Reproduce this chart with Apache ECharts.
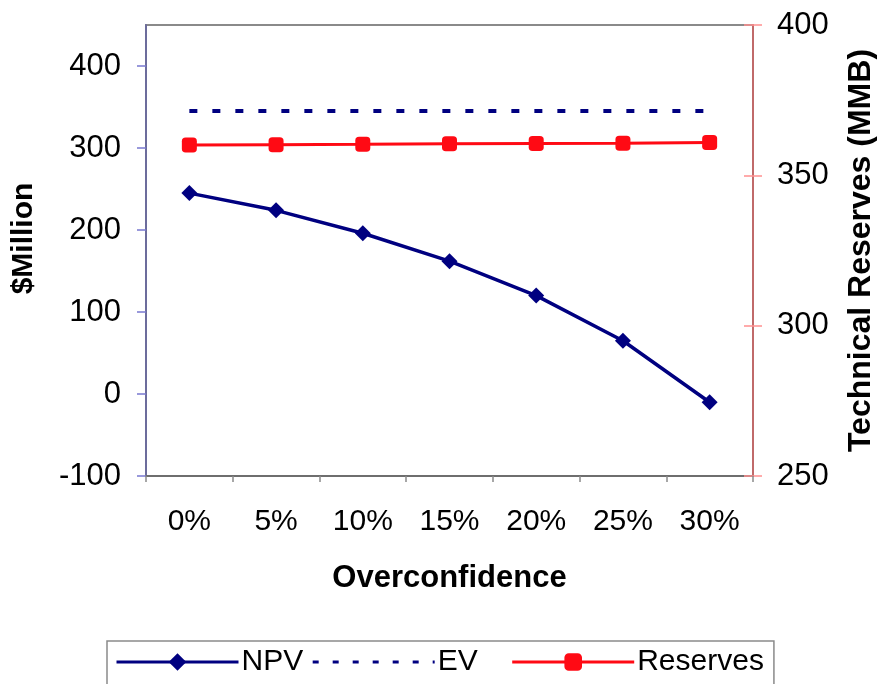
<!DOCTYPE html>
<html>
<head>
<meta charset="utf-8">
<script src="https://cdn.jsdelivr.net/npm/echarts@6/dist/echarts.min.js"></script>
<style>
html,body{margin:0;padding:0;background:#fff;overflow:hidden;}
#chart{width:877px;height:684px;}
</style>
</head>
<body>
<div id="chart"></div>
<script>
const categories = ['0%', '5%', '10%', '15%', '20%', '25%', '30%'];
const npv = [245, 224, 196, 162, 120, 65, -10];
const ev = [345, 345, 345, 345, 345, 345, 345];
const reserves = [360.1, 360.2, 360.3, 360.5, 360.6, 360.7, 360.9];
const leftTicks = [-100, 0, 100, 200, 300, 400];
const rightTicks = [250, 300, 350, 400];

const FONT = '"Liberation Sans", Arial, sans-serif';
const chart = echarts.init(document.getElementById('chart'));
chart.setOption({
  animation: false,
  backgroundColor: '#fff',
  textStyle: { fontFamily: FONT, color: '#000' },
  grid: { left: 146, right: 124, top: 25, bottom: 208, show: true, borderColor: '#8a8a8a', borderWidth: 2, containLabel: false, outerBoundsMode: 'none' },
  legend: {
    data: [
      { name: 'NPV', lineStyle: { width: 3 } },
      { name: 'EV', itemStyle: { opacity: 0 }, lineStyle: { width: 3, type: [6, 14] } },
      { name: 'Reserves', lineStyle: { width: 3 } }
    ],
    formatter: function (name) { return name === 'EV' ? 'EV   ' : name; },
    left: 107, top: 641,
    padding: [6, 10, 14, 8],
    itemWidth: 122, itemHeight: 22, itemGap: 8,
    borderColor: '#8a8a8a', borderWidth: 1.5,
    textStyle: { fontFamily: FONT, fontSize: 30, color: '#000', padding: [0, 0, 0, -2] }
  },
  xAxis: {
    type: 'category', data: categories, boundaryGap: true,
    axisLine: { onZero: false, lineStyle: { color: '#6e6e6e', width: 2 } },
    axisTick: { show: true, length: 6, lineStyle: { color: '#8a8a8a', width: 1.5 } },
    axisLabel: { fontFamily: FONT, fontSize: 30, color: '#000', margin: 31 },
    name: 'Overconfidence', nameLocation: 'middle', nameGap: 87,
    nameTextStyle: { fontFamily: FONT, fontSize: 31, fontWeight: 'bold', color: '#000' }
  },
  yAxis: [
    {
      type: 'value', position: 'left', min: -100, max: 450, interval: 50,
      splitLine: { show: false },
      axisLine: { show: true, onZero: false, lineStyle: { color: '#6c6c9c', width: 2 } },
      axisTick: { show: true, length: 9, customValues: leftTicks, lineStyle: { color: '#7878d0', width: 1.5 } },
      axisLabel: { fontFamily: FONT, fontSize: 31, color: '#000', margin: 25, customValues: leftTicks },
      name: '$Million', nameLocation: 'middle', nameGap: 107, nameRotate: 90,
      nameTextStyle: { fontFamily: FONT, fontSize: 30, fontWeight: 'bold', color: '#000', padding: [0, 0, 0, 24] }
    },
    {
      type: 'value', position: 'right', min: 250, max: 400, interval: 50,
      splitLine: { show: false },
      axisLine: { show: true, onZero: false, lineStyle: { color: '#c06a6a', width: 2 } },
      axisTick: { show: true, length: 9, customValues: rightTicks, lineStyle: { color: '#ff9090', width: 1.5 } },
      axisLabel: { fontFamily: FONT, fontSize: 31, color: '#000', margin: 24, customValues: rightTicks },
      name: 'Technical Reserves (MMB)', nameLocation: 'middle', nameGap: 92, nameRotate: 90,
      nameTextStyle: { fontFamily: FONT, fontSize: 32, fontWeight: 'bold', color: '#000' }
    },
    {
      type: 'value', position: 'right', min: 250, max: 400, interval: 50,
      splitLine: { show: false },
      axisLine: { show: false, onZero: false },
      axisTick: { show: true, inside: true, length: 9, customValues: rightTicks, lineStyle: { color: '#ff9090', width: 1.5 } },
      axisLabel: { show: false }
    }
  ],
  series: [
    {
      name: 'NPV', type: 'line', data: npv, yAxisIndex: 0,
      symbol: 'diamond', symbolSize: 16,
      lineStyle: { color: '#000080', width: 3.5 },
      itemStyle: { color: '#000080' },
      z: 4
    },
    {
      name: 'EV', type: 'line', data: ev, yAxisIndex: 0,
      symbol: 'none',
      lineStyle: { color: '#000080', width: 4, type: [8, 15] },
      itemStyle: { color: '#000080' },
      z: 3
    },
    {
      name: 'Reserves', type: 'line', data: reserves, yAxisIndex: 1,
      symbol: 'roundRect', symbolSize: 15,
      lineStyle: { color: '#ff0a14', width: 3 },
      itemStyle: { color: '#ff0a14' },
      z: 3
    }
  ]
});
</script>
</body>
</html>
